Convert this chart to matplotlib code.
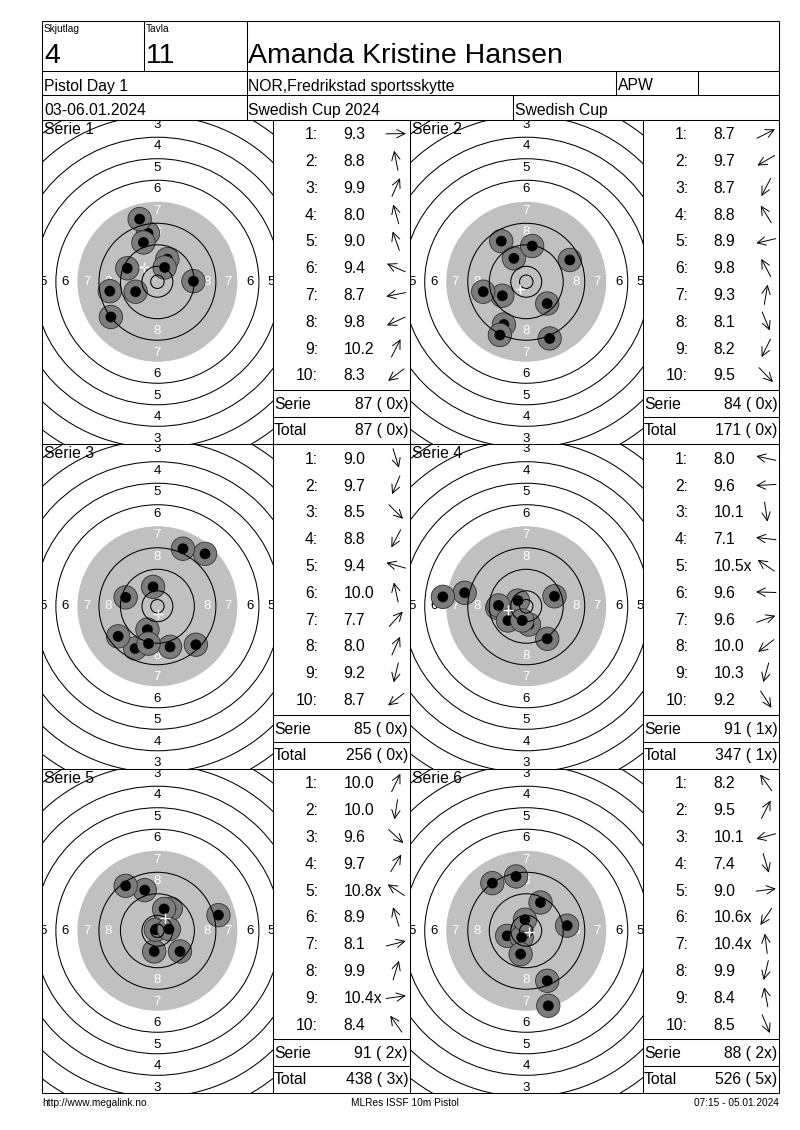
import math

import matplotlib
matplotlib.use("Agg")
import matplotlib.pyplot as plt
from matplotlib.patches import Circle, FancyArrowPatch
import numpy as np

plt.rcParams['font.family'] = ['Liberation Sans', 'DejaVu Sans']

# header texts
skjutlag = "4"
tavla = "11"
shooter = "Amanda Kristine Hansen"
match_name = "Pistol Day 1"
club = "NOR,Fredrikstad sportsskytte"
klass = "APW"
dates = "03-06.01.2024"
competition = "Swedish Cup 2024"
cup = "Swedish Cup"
footer_left = "http://www.megalink.no"
footer_mid = "MLRes ISSF 10m Pistol"
footer_right = "07:15 - 05.01.2024"

# decimal scores per series, shot numbers with inner ten (x)
scores_1 = [9.3, 8.8, 9.9, 8.0, 9.0, 9.4, 8.7, 9.8, 10.2, 8.3]
scores_2 = [8.7, 9.7, 8.7, 8.8, 8.9, 9.8, 9.3, 8.1, 8.2, 9.5]
scores_3 = [9.0, 9.7, 8.5, 8.8, 9.4, 10.0, 7.7, 8.0, 9.2, 8.7]
scores_4 = [8.0, 9.6, 10.1, 7.1, 10.5, 9.6, 9.6, 10.0, 10.3, 9.2]
scores_5 = [10.0, 10.0, 9.6, 9.7, 10.8, 8.9, 8.1, 9.9, 10.4, 8.4]
scores_6 = [8.2, 9.5, 10.1, 7.4, 9.0, 10.6, 10.4, 9.9, 8.4, 8.5]
inner_1 = []
inner_2 = []
inner_3 = []
inner_4 = [5]
inner_5 = [5, 9]
inner_6 = [6, 7]

# shot positions on the target in mm (x right, y up)
x_1 = [13.4, -3.5, 3.7, -6.6, -5.2, -11.2, -17.7, -8.1, 2.7, -17.3]
y_1 = [0.2, 18.0, 8.4, 23.3, 14.6, 5.0, -3.5, -3.7, 5.3, -13.1]
x_2 = [16.2, -8.9, -8.3, -9.3, -16.0, -4.6, 2.2, 8.7, -9.8, 7.8]
y_2 = [8.1, -5.2, -15.9, 15.1, -3.7, 8.7, 13.3, -21.1, -19.8, -8.1]
x_3 = [4.7, -3.7, 14.3, -8.3, -11.8, -1.6, 17.7, 9.5, -3.3, -14.6]
y_3 = [-15.1, -8.7, -14.3, -15.7, 3.3, 7.2, 19.5, 21.4, -13.9, -11.2]
x_4 = [-22.9, -10.8, 1.0, -31.0, -3.1, -10.3, 10.5, -6.8, -1.5, 7.8]
y_4 = [5.0, -0.6, -6.8, 3.5, 2.1, 0.3, 3.7, -5.3, -5.3, -12.1]
x_5 = [3.1, -1.2, 8.4, 5.0, -0.6, -4.7, 22.7, 2.5, 4.3, -11.8]
y_5 = [6.4, -7.7, -7.7, 8.2, 0.4, 15.1, 5.8, 8.1, 0.6, 16.7]
x_6 = [-12.6, 5.3, -7.1, 8.2, 15.2, -1.7, -0.5, -2.1, -3.8, 7.8]
y_6 = [17.7, 10.5, -1.9, -27.9, 1.9, -2.5, 4.1, -8.7, 20.2, -18.6]

series = [
    (scores_1, inner_1, x_1, y_1),
    (scores_2, inner_2, x_2, y_2),
    (scores_3, inner_3, x_3, y_3),
    (scores_4, inner_4, x_4, y_4),
    (scores_5, inner_5, x_5, y_5),
    (scores_6, inner_6, x_6, y_6),
]

# page layout (pixels)
W, H = 800, 1130
LEFT, RIGHT = 42.3, 779.3
TOP, H1, H2, H3 = 21.0, 70.7, 95.0, 119.5
ROWS = [119.5, 444.0, 768.5, 1093.0]
COLS = [LEFT, 272.5, 410.0, 642.5, RIGHT]
PX_MM = 2.689
LW = 0.75
FS = 11.3

fig = plt.figure(figsize=(W / 100, H / 100), dpi=100)
bg = fig.add_axes([0, 0, 1, 1])
bg.set_xlim(0, W)
bg.set_ylim(H, 0)
bg.axis('off')


def hline(y, x0, x1):
    bg.plot([x0, x1], [y, y], color='black', lw=LW, solid_capstyle='butt')


def vline(x, y0, y1):
    bg.plot([x, x], [y0, y1], color='black', lw=LW, solid_capstyle='butt')


# header grid
for y in [TOP, H1, H2, H3]:
    hline(y, LEFT, RIGHT)
vline(LEFT, TOP, ROWS[-1])
vline(RIGHT, TOP, ROWS[-1])
vline(144.3, TOP, H1)
vline(246.7, TOP, H3)
vline(616.0, H1, H2)
vline(698.0, H1, H2)
vline(513.0, H2, H3)

bg.text(44, 23.5, "Skjutlag", fontsize=7.3, va='top')
bg.text(146, 23.5, "Tavla", fontsize=7.3, va='top')
bg.text(44, 63.3, skjutlag, fontsize=20.5, va='baseline')
bg.text(146, 63.3, tavla, fontsize=20.5, va='baseline')
bg.text(248, 63.3, shooter, fontsize=20.5, va='baseline')
bg.text(44, 90.5, match_name, fontsize=FS, va='baseline')
bg.text(248, 90.5, club, fontsize=FS, va='baseline')
bg.text(618, 90.5, klass, fontsize=FS, va='baseline')
bg.text(44, 115, dates, fontsize=FS, va='baseline')
bg.text(248, 115, competition, fontsize=FS, va='baseline')
bg.text(515, 115, cup, fontsize=FS, va='baseline')

# body grid
for y in ROWS[1:]:
    hline(y, LEFT, RIGHT)
for x in COLS[1:4]:
    vline(x, H3, ROWS[-1])

# target geometry (ISSF 10m air pistol, mm)
ring_radius = {n: 5.75 + 8 * (10 - n) for n in range(1, 11)}
black_radius = ring_radius[7]

running_total = 0
running_x = 0
for i, (scores, inner, xs, ys) in enumerate(series):
    r, c = divmod(i, 2)
    tx0, tx1 = COLS[2 * c], COLS[2 * c + 1]
    ty0, ty1 = ROWS[r], ROWS[r + 1]
    hw = (tx1 - tx0) / 2 / PX_MM
    hh = (ty1 - ty0) / 2 / PX_MM

    ax = fig.add_axes([tx0 / W, 1 - ty1 / H, (tx1 - tx0) / W, (ty1 - ty0) / H])
    ax.set_xlim(-hw, hw)
    ax.set_ylim(-hh, hh)
    ax.axis('off')

    ax.add_patch(Circle((0, 0), black_radius, fc='#c0c0c0', ec='none', zorder=1))
    for n in range(1, 11):
        if n == 7:
            continue
        ax.add_patch(Circle((0, 0), ring_radius[n], fill=False, ec='black', lw=LW, zorder=5))
    ax.add_patch(Circle((0, 0), 2.5, fill=False, ec='black', lw=LW, zorder=5))

    for n in range(3, 9):
        rr = ring_radius[n] - 3.4
        col = 'white' if n >= 7 else 'black'
        pts = [(0, rr), (0, -rr)]
        if n >= 5:
            pts += [(rr, 0), (-rr, 0)]
        for px, py in pts:
            ax.text(px, py, str(n), fontsize=9.5, color=col, ha='center', va='center',
                    zorder=2, clip_on=True)

    for k, (sx, sy) in enumerate(zip(xs, ys)):
        ax.add_patch(Circle((sx, sy), 4.35, fc='#7c7c7c', ec='#303030', lw=0.6,
                            zorder=3 + 0.1 * k))
        ax.add_patch(Circle((sx, sy), 2.0, fc='black', ec='none', zorder=3.05 + 0.1 * k))

    ax.plot(np.mean(xs), np.mean(ys), marker='+', color='white', ms=7.5, mew=1.0, zorder=6)

    ax.text(tx0 + 1.5, ty0 + 14.3, "Serie %d" % (i + 1), fontsize=FS, va='baseline',
            transform=bg.transData, zorder=10, clip_on=False)

    # shot table
    bx0, bx1 = COLS[2 * c + 1], COLS[2 * c + 2]
    for k, (sc, sx, sy) in enumerate(zip(scores, xs, ys)):
        yb = ty0 + 19.8 + 26.8 * k
        bg.text(bx0 + 45.5, yb, "%d:" % (k + 1), fontsize=FS, ha='right', va='baseline')
        lab = "%.1f" % sc + ("x" if (k + 1) in inner else "")
        bg.text(bx0 + 71.0, yb, lab, fontsize=FS, ha='left', va='baseline')
        ang = math.atan2(sy, sx)
        cx, cy = bx0 + 123.5, yb - 5.6
        dx, dy = 10 * math.cos(ang), -10 * math.sin(ang)
        arr = FancyArrowPatch((cx - dx, cy - dy), (cx + dx, cy + dy),
                              arrowstyle='->,head_length=0.6,head_width=0.3',
                              mutation_scale=10, lw=0.7, color='black',
                              shrinkA=0, shrinkB=0, transform=bg.transData)
        bg.add_patch(arr)

    serie_sum = int(sum(math.floor(s + 1e-9) for s in scores))
    running_total += serie_sum
    running_x += len(inner)
    hline(ty0 + 270.8, bx0, bx1)
    hline(ty0 + 297.5, bx0, bx1)
    bg.text(bx0 + 1.5, ty0 + 289.8, "Serie", fontsize=FS, va='baseline')
    bg.text(bx1 - 2, ty0 + 289.8, "%d (%2dx)" % (serie_sum, len(inner)), fontsize=FS,
            ha='right', va='baseline')
    bg.text(bx0 + 1.5, ty0 + 315.8, "Total", fontsize=FS, va='baseline')
    bg.text(bx1 - 2, ty0 + 315.8, "%d (%2dx)" % (running_total, running_x), fontsize=FS,
            ha='right', va='baseline')

# footer
bg.text(LEFT, 1105.5, footer_left, fontsize=7.3, va='baseline')
bg.text(405, 1105.5, footer_mid, fontsize=7.3, ha='center', va='baseline')
bg.text(RIGHT, 1105.5, footer_right, fontsize=7.3, ha='right', va='baseline')

fig.savefig('out.png', dpi=100)
